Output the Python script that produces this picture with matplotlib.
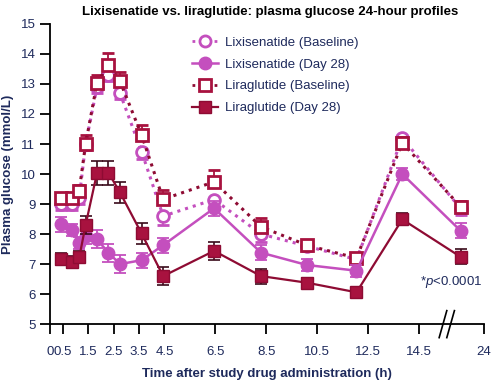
import numpy as np
import matplotlib
matplotlib.use("Agg")
from matplotlib import pyplot as plt
from matplotlib.lines import Line2D

plt.rcParams['font.family'] = ['Liberation Sans', 'DejaVu Sans']
plt.rcParams['mathtext.fontset'] = 'custom'
plt.rcParams['mathtext.it'] = 'Liberation Sans:italic'
plt.rcParams['mathtext.rm'] = 'Liberation Sans'

# time after drug administration (h)
hours = [0.45, 0.85, 1.15, 1.4, 1.85, 2.3, 2.75, 3.6, 4.45, 6.45, 8.3, 10.1, 12.05, 13.85, 20]

lixi_base = [9.0, 9.0, 9.2, 11.0, 12.9, 13.3, 12.7, 10.75, 8.6, 9.15, 8.0, 7.6, 7.15, 11.2, 8.85]
lixi_base_err = [0.2, 0.2, 0.2, 0.2, 0.2, 0.2, 0.2, 0.25, 0.3, 0.3, 0.25, 0.15, 0.15, 0.2, 0.2]

lixi_d28 = [8.33, 8.12, 7.69, 7.93, 7.82, 7.38, 7.0, 7.13, 7.63, 8.86, 7.38, 6.97, 6.78, 10.0, 8.11]
lixi_d28_err = [0.25, 0.2, 0.2, 0.25, 0.3, 0.3, 0.3, 0.25, 0.25, 0.25, 0.25, 0.2, 0.2, 0.2, 0.25]

lira_base = [9.2, 9.2, 9.45, 11.0, 13.04, 13.63, 13.1, 11.3, 9.16, 9.74, 8.24, 7.63, 7.2, 11.04, 8.91]
lira_base_err = [0.15, 0.15, 0.2, 0.3, 0.25, 0.4, 0.3, 0.35, 0.3, 0.4, 0.3, 0.15, 0.15, 0.2, 0.2]

lira_d28 = [7.16, 7.08, 7.22, 8.3, 10.04, 10.04, 9.39, 8.02, 6.6, 7.44, 6.6, 6.38, 6.06, 8.49, 7.24]
lira_d28_err = [0.2, 0.2, 0.2, 0.3, 0.4, 0.4, 0.35, 0.35, 0.3, 0.3, 0.25, 0.15, 0.15, 0.2, 0.25]

tick_hours = [0, 0.5, 1.5, 2.5, 3.5, 4.5, 6.5, 8.5, 10.5, 12.5, 14.5, 24]
tick_labels = ['0', '0.5', '1.5', '2.5', '3.5', '4.5', '6.5', '8.5', '10.5', '12.5', '14.5', '24']


def squeeze(t):
    # axis is broken after ~15 h: later hours are compressed
    t = np.asarray(t, dtype=float)
    return np.where(t <= 15, t, 15 + (t - 15) * 2.06 / 9)


LIXI = '#C44FBE'
LIRA = '#A8123F'
LIRA_DARK = '#8E0B33'
NAVY = '#1E2A5C'

fig = plt.figure(figsize=(4.92, 3.8), dpi=100)
ax = fig.add_axes([0.1016, 0.147, 0.882, 0.79])

x = squeeze(hours)
z = np.zeros(len(hours))

# baselines: dotted lines, open markers
ax.errorbar(x, lixi_base, yerr=[lixi_base_err, z], color=LIXI, ls=':', lw=2.2,
            marker='o', ms=8.5, mfc='white', mec=LIXI, mew=2, capsize=4, elinewidth=1.3,
            capthick=1.3, zorder=3)
ax.errorbar(x, lira_base, yerr=[z, lira_base_err], color=LIRA_DARK, ls=':', lw=2.2,
            marker='s', ms=8.5, mfc='white', mec=LIRA, mew=2, ecolor=LIRA, capsize=4,
            elinewidth=1.3, capthick=1.3, zorder=4)
# day 28: solid lines, filled markers
ax.errorbar(x, lixi_d28, yerr=lixi_d28_err, color=LIXI, ls='-', lw=1.8,
            marker='o', ms=9, mfc=LIXI, mec=LIXI, capsize=4, elinewidth=1.3,
            capthick=1.3, zorder=5)
ax.errorbar(x, lira_d28, yerr=lira_d28_err, color=LIRA_DARK, ls='-', lw=1.6,
            marker='s', ms=9, mfc=LIRA, mec=LIRA_DARK, ecolor='#3A0A1A', capsize=4,
            elinewidth=1.2, capthick=1.2, zorder=6)

ax.set_xlim(0, float(squeeze(24)))
ax.set_ylim(5, 15)
ax.set_xticks(squeeze(tick_hours))
ax.set_xticklabels(tick_labels)
ax.set_yticks(range(5, 16))
ax.spines['top'].set_visible(False)
ax.spines['right'].set_visible(False)
for s in ('left', 'bottom'):
    ax.spines[s].set_linewidth(1.3)
ax.tick_params(direction='out', length=7, width=1.3, labelsize=9.5, colors='black',
               labelcolor=NAVY)
ax.tick_params(axis='x', pad=9)

# axis break marks
for xb in (15.45, 15.75):
    ax.plot([xb - 0.15, xb + 0.15], [4.55, 5.45], color='black', lw=1.2,
            clip_on=False, zorder=10)

ax.set_xlabel('Time after study drug administration (h)', fontsize=9.5,
              fontweight='bold', color=NAVY, labelpad=7)
ax.set_ylabel('Plasma glucose (mmol/L)', fontsize=9.5, fontweight='bold',
              color=NAVY, labelpad=5)
fig.suptitle('Lixisenatide vs. liraglutide: plasma glucose 24-hour profiles',
             x=0.55, y=0.985, fontsize=9.5, fontweight='bold')

ax.text(14.55, 6.3, r'*$\it{p}$<0.0001', fontsize=9.5, color=NAVY)

handles = [
    Line2D([], [], color=LIXI, ls=':', lw=2, marker='o', ms=8, mfc='white', mec=LIXI, mew=2),
    Line2D([], [], color=LIXI, ls='-', lw=1.8, marker='o', ms=9, mfc=LIXI, mec=LIXI),
    Line2D([], [], color=LIRA_DARK, ls=':', lw=2, marker='s', ms=8, mfc='white', mec=LIRA, mew=2),
    Line2D([], [], color=LIRA_DARK, ls='-', lw=1.6, marker='s', ms=9, mfc=LIRA, mec=LIRA_DARK),
]
labels = ['Lixisenatide (Baseline)', 'Lixisenatide (Day 28)',
          'Liraglutide (Baseline)', 'Liraglutide (Day 28)']
leg = ax.legend(handles, labels, loc='upper left', bbox_to_anchor=(0.315, 0.975),
                frameon=False, fontsize=9.5, handlelength=2.0, handletextpad=0.5,
                labelspacing=0.72, borderaxespad=0)
for t in leg.get_texts():
    t.set_color(NAVY)

fig.savefig('out.png', dpi=100)
